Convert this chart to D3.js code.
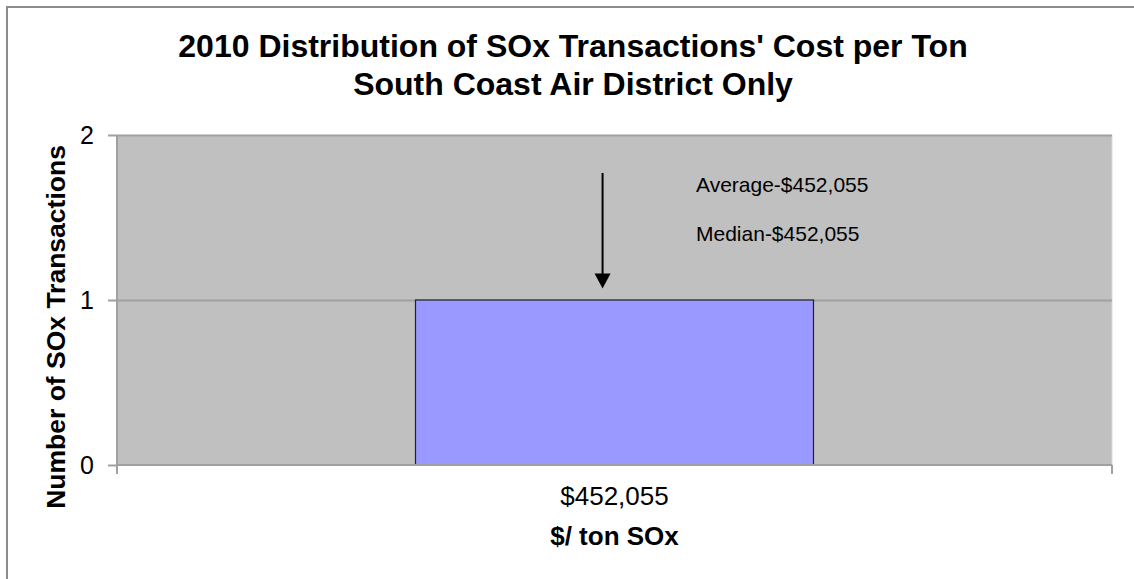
<!DOCTYPE html>
<html>
<head>
<meta charset="utf-8">
<script src="https://cdn.jsdelivr.net/npm/d3@7"></script>
<style>
    body { margin: 0; background: #fff; }
    svg { display: block; font-family: "Liberation Sans", Arial, sans-serif; }
</style>
</head>
<body>
<div id="chart"></div>
<script>
// Data
const categories = ["$452,055"];
const counts = [1];
const yTicks = [0, 1, 2];
const titleLines = ["2010 Distribution of SOx Transactions' Cost per Ton", "South Coast Air District Only"];
const noteLines = ["Average-$452,055", "Median-$452,055"];
const arrowRange = [1.77, 1.07]; // arrow from/to, in y units

let width = 1134, height = 579;
let margin = { top: 135, right: 22, bottom: 114, left: 117 };
let innerW = width - margin.left - margin.right;
let innerH = height - margin.top - margin.bottom;

let svg = d3.select("#chart").append("svg")
    .attr("width", width)
    .attr("height", height);

// outer chart border (right and bottom run off the picture)
svg.append("rect")
    .attr("x", 7).attr("y", 7)
    .attr("width", width + 10).attr("height", height + 10)
    .attr("fill", "#fff")
    .attr("stroke", "#8c8c8c")
    .attr("stroke-width", 2);

// title
svg.append("g").selectAll("text")
    .data(titleLines)
    .enter()
    .append("text")
    .attr("x", 573)
    .attr("y", (d, i) => 57 + i * 38)
    .attr("text-anchor", "middle")
    .style("font-size", "32px")
    .style("font-weight", "bold")
    .text(d => d);

let chart = svg.append("g")
    .attr("transform", `translate(${margin.left}, ${margin.top})`);

// scales
let xScale = d3.scaleBand()
    .domain(categories)
    .range([0, innerW])
    .paddingInner(0.6)
    .paddingOuter(0.3);

let yScale = d3.scaleLinear()
    .domain([0, 2])
    .range([innerH, 0]);

// plot area
chart.append("rect")
    .attr("width", innerW)
    .attr("height", innerH)
    .attr("fill", "#c0c0c0");

chart.append("line")
    .attr("x1", innerW).attr("x2", innerW)
    .attr("y1", 0).attr("y2", innerH)
    .attr("stroke", "#d9d9d9");

// gridlines
let grid = chart.append("g")
    .call(d3.axisLeft(yScale).tickValues(yTicks.filter(d => d > 0)).tickSize(-innerW).tickFormat(""));
grid.select(".domain").remove();
grid.selectAll("line").attr("stroke", "#a0a0a0").attr("stroke-width", 2);

// bars
chart.selectAll(".bar")
    .data(counts)
    .enter()
    .append("rect")
    .attr("class", "bar")
    .attr("x", (d, i) => xScale(categories[i]))
    .attr("y", d => yScale(d))
    .attr("width", xScale.bandwidth())
    .attr("height", d => innerH - yScale(d))
    .attr("fill", "#9999ff")
    .attr("stroke", "#222")
    .attr("stroke-width", 1.2);

// y axis
let yAxis = chart.append("g")
    .call(d3.axisLeft(yScale).tickValues(yTicks).tickSize(9).tickPadding(14).tickFormat(d3.format("d")));
yAxis.select(".domain").attr("stroke", "#a0a0a0").attr("stroke-width", 2).attr("d", `M0,0V${innerH}`);
yAxis.selectAll("line").attr("stroke", "#a0a0a0").attr("stroke-width", 2);
yAxis.selectAll("text").style("font-size", "25px").attr("fill", "#000");

// x axis (category boundary ticks at both ends)
let xAxisG = chart.append("g")
    .attr("transform", `translate(0, ${innerH})`);
xAxisG.append("line")
    .attr("x1", 0).attr("x2", innerW)
    .attr("stroke", "#a0a0a0").attr("stroke-width", 2);
xAxisG.selectAll(".bound")
    .data([0, innerW])
    .enter()
    .append("line")
    .attr("class", "bound")
    .attr("x1", d => d).attr("x2", d => d)
    .attr("y1", 0).attr("y2", 9)
    .attr("stroke", "#a0a0a0").attr("stroke-width", 2);
xAxisG.selectAll(".xlabel")
    .data(categories)
    .enter()
    .append("text")
    .attr("class", "xlabel")
    .attr("x", d => xScale(d) + xScale.bandwidth() / 2)
    .attr("y", 40)
    .attr("text-anchor", "middle")
    .style("font-size", "26px")
    .text(d => d);

// axis titles
svg.append("text")
    .attr("x", margin.left + xScale(categories[0]) + xScale.bandwidth() / 2)
    .attr("y", 545)
    .attr("text-anchor", "middle")
    .style("font-size", "26px")
    .style("font-weight", "bold")
    .text("$/ ton SOx");

svg.append("text")
    .attr("transform", `translate(65, ${margin.top + innerH / 2 + 27}) rotate(-90)`)
    .attr("text-anchor", "middle")
    .style("font-size", "26.5px")
    .style("font-weight", "bold")
    .text("Number of SOx Transactions");

// arrow annotation
let ax = xScale(categories[0]) + xScale.bandwidth() * 0.47;
chart.append("line")
    .attr("x1", ax).attr("x2", ax)
    .attr("y1", yScale(arrowRange[0]))
    .attr("y2", yScale(arrowRange[1]) - 14)
    .attr("stroke", "#000")
    .attr("stroke-width", 2);
chart.append("path")
    .attr("d", `M${ax - 8},${yScale(arrowRange[1]) - 15}L${ax + 8},${yScale(arrowRange[1]) - 15}L${ax},${yScale(arrowRange[1])}Z`)
    .attr("fill", "#000");

chart.selectAll(".note")
    .data(noteLines)
    .enter()
    .append("text")
    .attr("class", "note")
    .attr("x", 579)
    .attr("y", (d, i) => 57 + i * 49)
    .style("font-size", "21px")
    .text(d => d);
</script>
</body>
</html>
